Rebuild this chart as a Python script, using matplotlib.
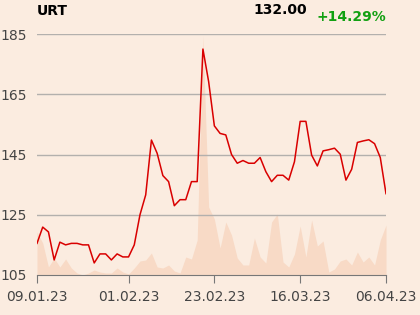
import numpy as np
import matplotlib
matplotlib.use("Agg")
import matplotlib.pyplot as plt

# daily closes (trading days 09.01.23 - 06.04.23)
price = [115.5, 120.9, 119.3, 110.0, 115.9, 115.0, 115.5, 115.5, 115.0, 115.0,
         109.0, 112.0, 112.0, 110.0, 112.0, 111.0, 111.0, 115.0, 125.0, 131.6,
         149.8, 145.4, 138.0, 136.0, 128.0, 130.0, 130.0, 136.0, 136.0, 180.0,
         169.2, 154.5, 152.0, 151.5, 145.0, 142.1, 143.0, 142.1, 142.1, 144.0,
         139.3, 136.0, 138.1, 138.1, 136.5, 142.6, 156.0, 156.0, 144.8, 141.2,
         146.2, 146.6, 147.1, 145.1, 136.5, 140.1, 149.0, 149.5, 149.9, 148.6,
         144.0, 132.0]
# traded volume (relative units)
volume = [43, 32, 8, 17, 8, 16, 7, 2, 0, 2,
          5, 3, 2, 2, 7, 3, 1, 7, 14, 15,
          22, 8, 7, 10, 4, 2, 18, 16, 35, 239,
          68, 56, 27, 53, 40, 17, 10, 10, 37, 18,
          12, 53, 61, 13, 8, 21, 49, 18, 55, 29,
          34, 3, 6, 14, 16, 10, 23, 13, 18, 10,
          35, 50]
tick_pos = [0, 16, 31, 46, 61]
tick_labels = ['09.01.23', '01.02.23', '23.02.23', '16.03.23', '06.04.23']
y_ticks = [105, 125, 145, 165, 185]

bg = '#fbece0'
x = np.arange(len(price))

fig = plt.figure(figsize=(4.2, 3.15), dpi=100, facecolor=bg)
ax = fig.add_axes([37/420, 1-275/315, 349/420, 241/315])
ax2 = ax.twinx()

ax2.fill_between(x, volume, 0, color='#f8dac6', lw=0)
ax2.set_ylim(0, 241)
ax2.axis('off')

ax.set_zorder(ax2.get_zorder() + 1)
ax.patch.set_visible(False)
ax2.patch.set_facecolor(bg)

ax.plot(x, price, color='#d90000', lw=1.1)
ax.set_xlim(0, len(price) - 1)
ax.set_ylim(105, 185)
ax.set_yticks(y_ticks)
ax.set_xticks(tick_pos)
ax.set_xticklabels(tick_labels)
for g in y_ticks[1:]:
    ax.axhline(g, color='#b3b0ad', lw=1, zorder=0)

for s in ['top', 'right', 'left']:
    ax.spines[s].set_visible(False)
ax.spines['bottom'].set_color('#777777')
ax.tick_params(axis='y', length=0, pad=7, labelsize=10, labelcolor='#444444')
ax.tick_params(axis='x', length=6, color='#777777', pad=5, labelsize=10,
               labelcolor='#444444')

fig.text(37/420, 1-11/315, 'URT', fontsize=10, fontweight='bold', va='center')
fig.text(307/420, 1-10/315, f'{price[-1]:.2f}', fontsize=10, fontweight='bold',
         va='center', ha='right')
chg = (price[-1] / price[0] - 1) * 100
fig.text(386/420, 1-17/315, f'{chg:+.2f}%', fontsize=10, fontweight='bold',
         va='center', ha='right', color='#12a012')

fig.savefig('out.png', dpi=100, facecolor=bg)
